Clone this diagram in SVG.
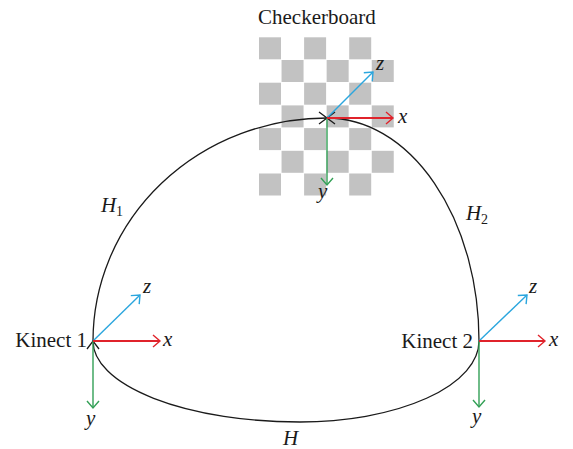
<svg xmlns="http://www.w3.org/2000/svg" width="573" height="449" viewBox="0 0 573 449">
<style>
.sq{fill:#c2c2c2}
.curve{fill:none;stroke:#1a1a1a;stroke-width:1.3}
.ax{fill:none;stroke-width:1.4}
.xa{stroke:#e0232b;stroke-width:2}
.ya{stroke:#33a056}
.za{stroke:#2ba6de}
.lbl{font-family:"Liberation Serif",serif;font-size:21px;fill:#1a1a1a}
.it{font-family:"Liberation Serif",serif;font-style:italic;font-size:21px;fill:#1a1a1a}
.sub{font-family:"Liberation Serif",serif;font-size:14px;fill:#1a1a1a}
</style>
<defs>
<marker id="aK" markerUnits="userSpaceOnUse" viewBox="-10 -8 12 16" markerWidth="12" markerHeight="16" refX="0" refY="0" orient="auto" overflow="visible"><path d="M-8,-6 L0,0 L-8,6" fill="none" stroke="#1a1a1a" stroke-width="1.3"/></marker>
<marker id="aR" markerUnits="userSpaceOnUse" viewBox="-10 -8 12 16" markerWidth="12" markerHeight="16" refX="0" refY="0" orient="auto" overflow="visible"><path d="M-7,-6 L0,0 L-7,6" fill="none" stroke="#e0232b" stroke-width="1.4"/></marker>
<marker id="aG" markerUnits="userSpaceOnUse" viewBox="-10 -8 12 16" markerWidth="12" markerHeight="16" refX="0" refY="0" orient="auto" overflow="visible"><path d="M-7,-6 L0,0 L-7,6" fill="none" stroke="#33a056" stroke-width="1.4"/></marker>
<marker id="aB" markerUnits="userSpaceOnUse" viewBox="-10 -8 12 16" markerWidth="12" markerHeight="16" refX="0" refY="0" orient="auto" overflow="visible"><path d="M-7,-6 L0,0 L-7,6" fill="none" stroke="#2ba6de" stroke-width="1.4"/></marker>
</defs>
<rect width="573" height="449" fill="#ffffff"/>

<g id="checkerboard">
<text class="lbl" x="258" y="24">Checkerboard</text>
<rect class="sq" x="259" y="37.3" width="22" height="22"/>
<rect class="sq" x="304.1" y="37.3" width="22" height="22"/>
<rect class="sq" x="349.2" y="37.3" width="22" height="22"/>
<rect class="sq" x="281.55" y="60" width="22" height="22"/>
<rect class="sq" x="326.65" y="60" width="22" height="22"/>
<rect class="sq" x="371.75" y="60" width="22" height="22"/>
<rect class="sq" x="259" y="82.7" width="22" height="22"/>
<rect class="sq" x="304.1" y="82.7" width="22" height="22"/>
<rect class="sq" x="349.2" y="82.7" width="22" height="22"/>
<rect class="sq" x="281.55" y="105.4" width="22" height="22"/>
<rect class="sq" x="326.65" y="105.4" width="22" height="22"/>
<rect class="sq" x="371.75" y="105.4" width="22" height="22"/>
<rect class="sq" x="259" y="128.1" width="22" height="22"/>
<rect class="sq" x="304.1" y="128.1" width="22" height="22"/>
<rect class="sq" x="349.2" y="128.1" width="22" height="22"/>
<rect class="sq" x="281.55" y="150.8" width="22" height="22"/>
<rect class="sq" x="326.65" y="150.8" width="22" height="22"/>
<rect class="sq" x="371.75" y="150.8" width="22" height="22"/>
<rect class="sq" x="259" y="173.5" width="22" height="22"/>
<rect class="sq" x="304.1" y="173.5" width="22" height="22"/>
<rect class="sq" x="349.2" y="173.5" width="22" height="22"/>
</g>

<g id="connectors">
<path id="H1" class="curve" d="M93,341 A234,223 0 0 1 327,118" marker-end="url(#aK)"/>
<path id="H2" class="curve" d="M479,341 A152,223 0 0 0 327,118" marker-end="url(#aK)"/>
<path id="H" class="curve" d="M479,341 A179,81 0 0 1 300,422 A207,81 0 0 1 93,341" marker-end="url(#aK)"/>
<text class="it" x="101" y="212">H</text><text class="sub" x="116" y="216">1</text>
<text class="it" x="466" y="220">H</text><text class="sub" x="481" y="224">2</text>
<text class="it" x="283" y="445">H</text>
</g>

<g id="checkerboard-axes">
<line class="ax za" x1="327" y1="118" x2="373" y2="72" marker-end="url(#aB)"/>
<line class="ax ya" x1="327" y1="118" x2="327" y2="185" marker-end="url(#aG)"/>
<line class="ax xa" x1="327" y1="118" x2="393" y2="118" marker-end="url(#aR)"/>
<text class="it" x="398" y="123">x</text>
<text class="it" x="376" y="70">z</text>
<text class="it" x="318" y="198">y</text>
</g>

<g id="kinect1">
<text class="lbl" x="87" y="347" text-anchor="end">Kinect 1</text>
<line class="ax za" x1="93" y1="341" x2="140" y2="295" marker-end="url(#aB)"/>
<line class="ax ya" x1="93" y1="341" x2="93" y2="408" marker-end="url(#aG)"/>
<line class="ax xa" x1="93" y1="341" x2="160" y2="341" marker-end="url(#aR)"/>
<text class="it" x="163" y="346">x</text>
<text class="it" x="143" y="293">z</text>
<text class="it" x="86" y="425">y</text>
</g>

<g id="kinect2">
<text class="lbl" x="473" y="348" text-anchor="end">Kinect 2</text>
<line class="ax za" x1="479" y1="341" x2="527" y2="295" marker-end="url(#aB)"/>
<line class="ax ya" x1="479" y1="341" x2="479" y2="407" marker-end="url(#aG)"/>
<line class="ax xa" x1="479" y1="341" x2="545" y2="341" marker-end="url(#aR)"/>
<text class="it" x="549" y="346">x</text>
<text class="it" x="529" y="293">z</text>
<text class="it" x="472" y="423">y</text>
</g>
</svg>
